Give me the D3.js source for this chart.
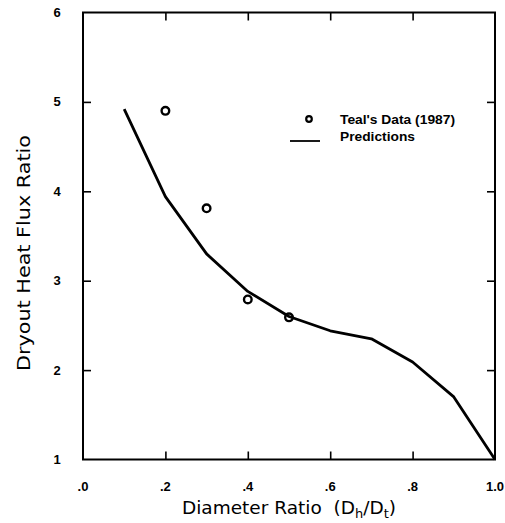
<!DOCTYPE html>
<html><head><meta charset="utf-8">
<script src="https://cdn.jsdelivr.net/npm/d3@7"></script>
<style>body{margin:0;background:#fff}svg{display:block}</style>
</head><body>
<script>
const dataX = [0.2, 0.3, 0.4, 0.5];
const dataY = [4.9, 3.81, 2.79, 2.59];
const predX = [0.1, 0.2, 0.3, 0.4, 0.5, 0.6, 0.7, 0.8, 0.9, 1.0];
const predY = [4.92, 3.94, 3.30, 2.88, 2.60, 2.44, 2.35, 2.09, 1.70, 1.0];
const xTicks = [0, 0.2, 0.4, 0.6, 0.8, 1.0];
const xTickLabels = [".0", ".2", ".4", ".6", ".8", "1.0"];
const yTicks = [1, 2, 3, 4, 5, 6];

const W = 505, H = 523;
const svg = d3.select("body").append("svg").attr("width", W).attr("height", H);
const x = d3.scaleLinear().domain([0, 1]).range([83, 495]);
const y = d3.scaleLinear().domain([1, 6]).range([459.5, 12.5]);
const font = "'Liberation Sans', Arial, sans-serif";

// frame
svg.append("rect").attr("x", x(0)).attr("y", y(6)).attr("width", x(1) - x(0)).attr("height", y(1) - y(6))
  .attr("fill", "none").attr("stroke", "#000").attr("stroke-width", 2);

const tl = 8;
const xAxB = d3.axisBottom(x).tickValues(xTicks.slice(1, -1)).tickSize(-tl).tickFormat("");
const gB = svg.append("g").attr("transform", `translate(0,${y(1)})`).call(xAxB);
const xAxT = d3.axisTop(x).tickValues(xTicks.slice(1, -1)).tickSize(-tl).tickFormat("");
const gT = svg.append("g").attr("transform", `translate(0,${y(6)})`).call(xAxT);
const yAxL = d3.axisLeft(y).tickValues(yTicks.slice(1, -1)).tickSize(-tl).tickFormat("");
const gL = svg.append("g").attr("transform", `translate(${x(0)},0)`).call(yAxL);
const yAxR = d3.axisRight(y).tickValues(yTicks.slice(1, -1)).tickSize(-tl).tickFormat("");
const gR = svg.append("g").attr("transform", `translate(${x(1)},0)`).call(yAxR);
[gB, gT, gL, gR].forEach(g => {
  g.select(".domain").remove();
  g.selectAll(".tick line").attr("stroke", "#000").attr("stroke-width", 1.6);
});

// tick labels
svg.append("g").selectAll("text").data(xTicks).join("text")
  .attr("x", d => x(d)).attr("y", 491)
  .attr("text-anchor", "middle").attr("font-family", font).attr("font-weight", "bold")
  .attr("font-size", 13).text((d, i) => xTickLabels[i]);
svg.append("g").selectAll("text").data(yTicks).join("text")
  .attr("x", 57).attr("y", d => y(d) + 4.5)
  .attr("text-anchor", "middle").attr("font-family", font).attr("font-weight", "bold")
  .attr("font-size", 13).text(d => d);

// prediction line
const line = d3.line().x(d => x(d[0])).y(d => y(d[1]));
svg.append("path").datum(predX.map((v, i) => [v, predY[i]]))
  .attr("d", line).attr("fill", "none").attr("stroke", "#000").attr("stroke-width", 2.8)
  .attr("stroke-linejoin", "round");

// data points
svg.append("g").selectAll("circle").data(dataX.map((v, i) => [v, dataY[i]])).join("circle")
  .attr("cx", d => x(d[0])).attr("cy", d => y(d[1])).attr("r", 3.8)
  .attr("fill", "none").attr("stroke", "#000").attr("stroke-width", 2.4);

// legend
svg.append("circle").attr("cx", 309).attr("cy", 119).attr("r", 2.8)
  .attr("fill", "none").attr("stroke", "#000").attr("stroke-width", 2.2);
svg.append("text").attr("x", 340).attr("y", 124).attr("font-family", font).attr("font-weight", "bold")
  .attr("font-size", 13.5).attr("textLength", 115).attr("lengthAdjust", "spacingAndGlyphs")
  .text("Teal's Data (1987)");
svg.append("line").attr("x1", 290).attr("x2", 320).attr("y1", 141).attr("y2", 141)
  .attr("stroke", "#000").attr("stroke-width", 1.8);
svg.append("text").attr("x", 340).attr("y", 141).attr("font-family", font).attr("font-weight", "bold")
  .attr("font-size", 13.5).attr("textLength", 75).attr("lengthAdjust", "spacingAndGlyphs")
  .text("Predictions");

// axis titles
const xt = svg.append("text").attr("x", 289).attr("y", 514).attr("text-anchor", "middle")
  .attr("font-family", "'DejaVu Sans', sans-serif").attr("font-size", 18.5);
xt.append("tspan").text("Diameter Ratio\u00a0\u00a0(D");
xt.append("tspan").attr("font-size", 13).attr("dy", 4).text("h");
xt.append("tspan").attr("dy", -4).text("/D");
xt.append("tspan").attr("font-size", 13).attr("dy", 4).text("t");
xt.append("tspan").attr("dy", -4).text(")");

svg.append("text").attr("transform", "translate(30,253) rotate(-90)").attr("text-anchor", "middle")
  .attr("font-family", "'DejaVu Sans', sans-serif").attr("font-size", 18.5)
  .attr("textLength", 236).attr("lengthAdjust", "spacingAndGlyphs")
  .text("Dryout Heat Flux Ratio");
</script>
</body></html>
